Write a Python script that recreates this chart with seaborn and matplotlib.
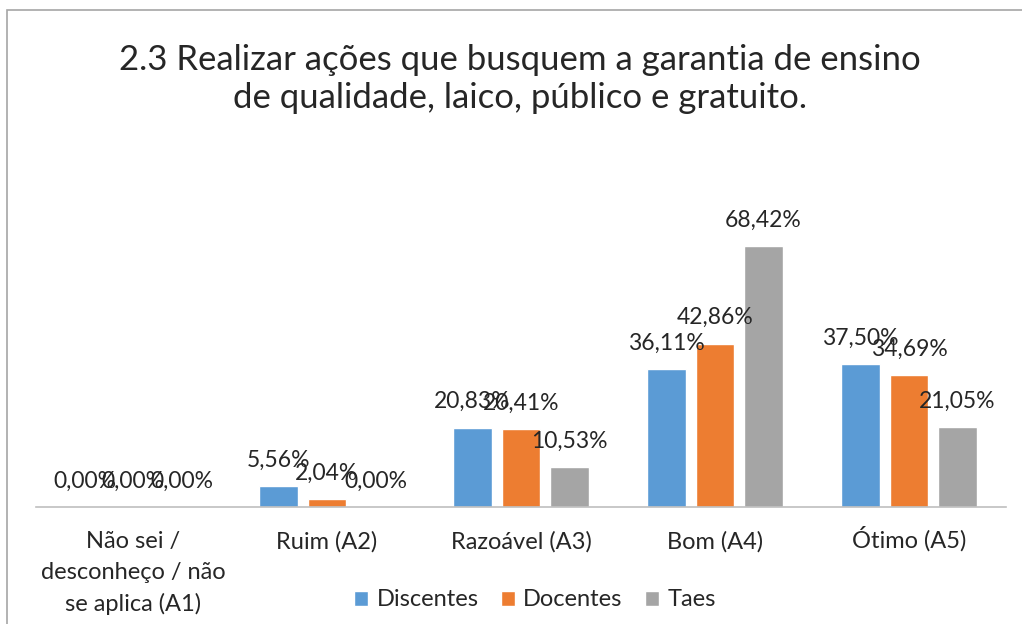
import matplotlib
matplotlib.use("Agg")
import matplotlib.pyplot as plt
import seaborn as sns
import pandas as pd
from matplotlib.patches import Rectangle

categories = ["Não sei /\ndesconheço / não\nse aplica (A1)", "Ruim (A2)", "Razoável (A3)", "Bom (A4)", "Ótimo (A5)"]
discentes = [0.00, 5.56, 20.83, 36.11, 37.50]
docentes = [0.00, 2.04, 20.41, 42.86, 34.69]
taes = [0.00, 0.00, 10.53, 68.42, 21.05]
series_names = ["Discentes", "Docentes", "Taes"]
colors = ["#5B9BD5", "#ED7D31", "#A5A5A5"]
title = "2.3 Realizar ações que busquem a garantia de ensino\nde qualidade, laico, público e gratuito."

rows = []
for name, vals in zip(series_names, [discentes, docentes, taes]):
    for c, v in zip(categories, vals):
        rows.append({"cat": c, "serie": name, "val": v})
df = pd.DataFrame(rows)

sns.set_theme(style="white")
plt.rcParams['font.family'] = ['Lato', 'DejaVu Sans']

fig = plt.figure(figsize=(10.22, 6.24), dpi=100)
ax = fig.add_axes([36/1022, 117/624, 970/1022, 305/624])

sns.barplot(data=df, x="cat", y="val", hue="serie", order=categories,
            hue_order=series_names, palette=colors, width=0.75, gap=0.215,
            saturation=1, ax=ax, legend=True, errorbar=None)

for cont in ax.containers:
    ax.bar_label(cont, labels=[f"{v:.2f}%".replace('.', ',') for v in cont.datavalues],
                 padding=11, fontsize=16.5, color="#262626")

ax.set_ylim(0, 80)
ax.set_xlim(-0.5, 4.5)
ax.set_xlabel("")
ax.set_ylabel("")
ax.set_yticks([])
for s in ["top", "right", "left"]:
    ax.spines[s].set_visible(False)
ax.spines["bottom"].set_color("#BFBFBF")
ax.spines["bottom"].set_linewidth(1.2)
ax.tick_params(axis="x", length=0, pad=17.5, labelsize=17, labelcolor="#262626")
for lbl in ax.get_xticklabels():
    lbl.set_linespacing(1.55)
    lbl.set_verticalalignment("top")
    if lbl.get_text().startswith("Ó"):
        lbl.set_y(5 / 305)

ax.legend(loc="center", bbox_to_anchor=(535/1022, 24/624), bbox_transform=fig.transFigure,
          ncol=3, frameon=False, fontsize=17, handlelength=0.6, handleheight=0.6,
          handletextpad=0.35, columnspacing=0.95)

fig.text(520/1022, 1 - 79/624, title, ha="center", va="center", fontsize=25,
         color="#262626", linespacing=1.25)

fig.patches.append(Rectangle((7/1022, -0.05), 1.2, 1 - 10/624 + 0.05, transform=fig.transFigure,
                             fill=False, edgecolor="#A6A6A6", linewidth=1.2))

fig.savefig("out.png", dpi=100)
